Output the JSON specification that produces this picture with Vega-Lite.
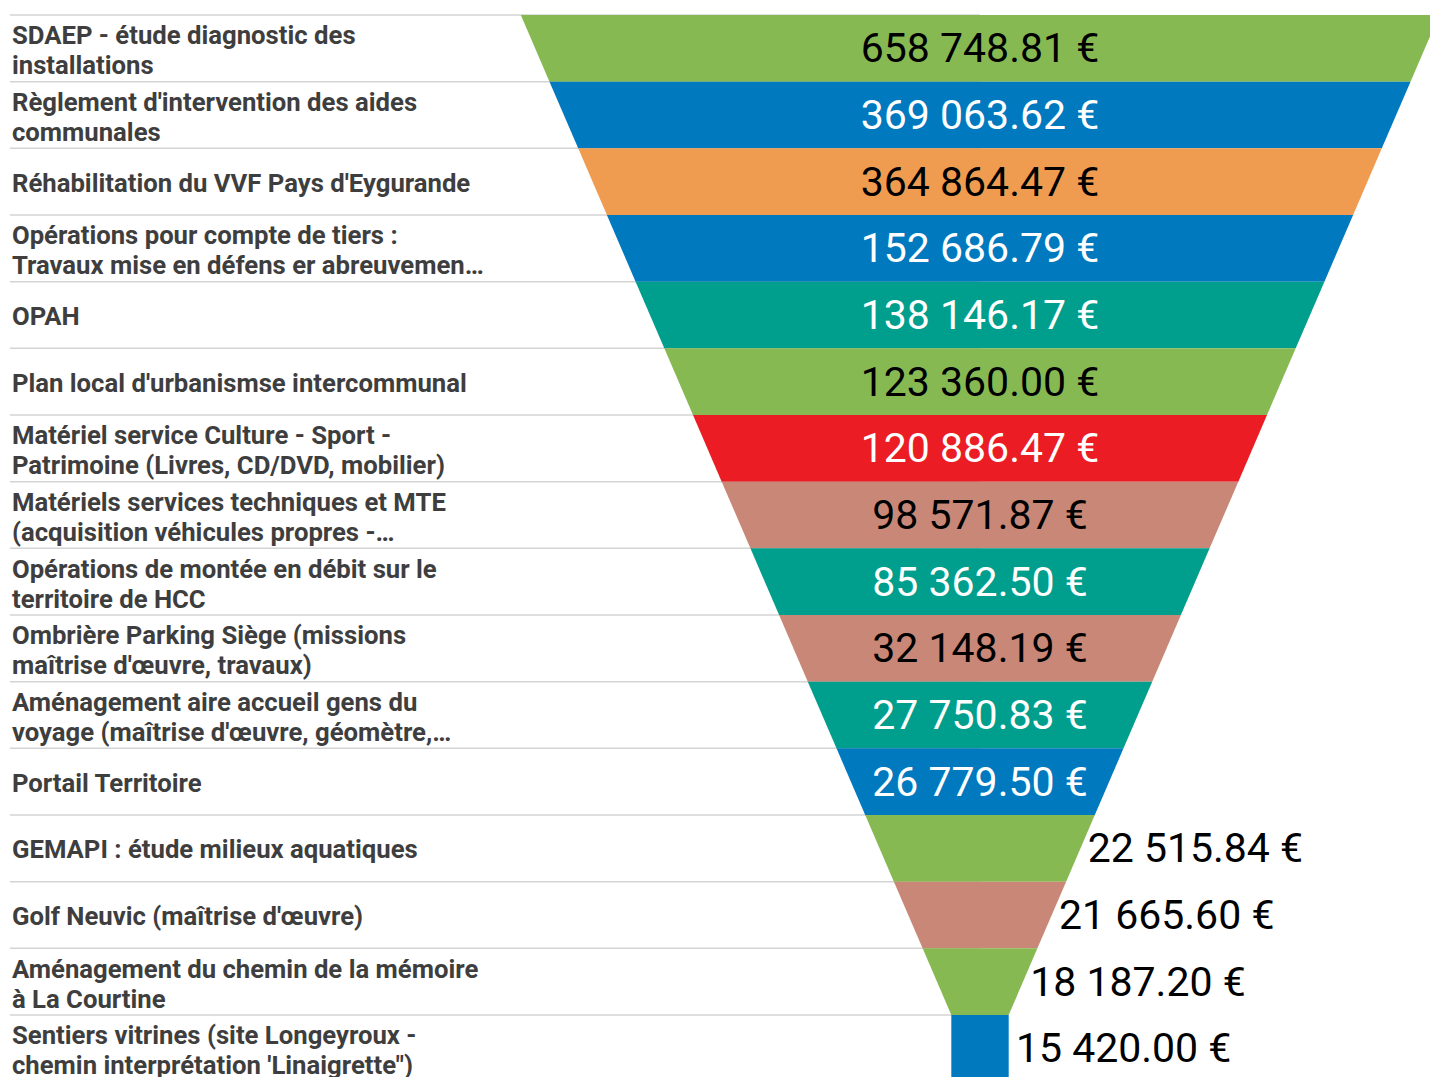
{
  "$schema": "https://vega.github.io/schema/vega-lite/v6.json",
  "width": 1430,
  "height": 1077,
  "autosize": {"type": "none"},
  "padding": 0,
  "background": "white",
  "config": {
    "view": {"stroke": null},
    "locale": {"number": {"decimal": ".", "thousands": " ", "grouping": [3], "currency": ["", " €"]}}
  },
  "data": {
    "values": [
      {"projet": "SDAEP - étude diagnostic des\ninstallations", "montant": 658748.81, "groupe": "G1"},
      {"projet": "Règlement d'intervention des aides\ncommunales", "montant": 369063.62, "groupe": "G2"},
      {"projet": "Réhabilitation du VVF Pays d'Eygurande", "montant": 364864.47, "groupe": "G3"},
      {"projet": "Opérations pour compte de tiers :\nTravaux mise en défens er abreuvemen…", "montant": 152686.79, "groupe": "G2"},
      {"projet": "OPAH", "montant": 138146.17, "groupe": "G4"},
      {"projet": "Plan local d'urbanismse intercommunal", "montant": 123360.00, "groupe": "G1"},
      {"projet": "Matériel service Culture - Sport -\nPatrimoine (Livres, CD/DVD, mobilier)", "montant": 120886.47, "groupe": "G5"},
      {"projet": "Matériels services techniques et MTE\n(acquisition véhicules propres -…", "montant": 98571.87, "groupe": "G6"},
      {"projet": "Opérations de montée en débit sur le\nterritoire de HCC", "montant": 85362.50, "groupe": "G4"},
      {"projet": "Ombrière Parking Siège (missions\nmaîtrise d'œuvre, travaux)", "montant": 32148.19, "groupe": "G6"},
      {"projet": "Aménagement aire accueil gens du\nvoyage (maîtrise d'œuvre, géomètre,…", "montant": 27750.83, "groupe": "G4"},
      {"projet": "Portail Territoire", "montant": 26779.50, "groupe": "G2"},
      {"projet": "GEMAPI : étude milieux aquatiques", "montant": 22515.84, "groupe": "G1"},
      {"projet": "Golf Neuvic (maîtrise d'œuvre)", "montant": 21665.60, "groupe": "G6"},
      {"projet": "Aménagement du chemin de la mémoire\nà La Courtine", "montant": 18187.20, "groupe": "G1"},
      {"projet": "Sentiers vitrines (site Longeyroux -\nchemin interprétation 'Linaigrette\")", "montant": 15420.00, "groupe": "G2"}
    ]
  },
  "transform": [
    {"window": [{"op": "row_number", "as": "i"}], "sort": [{"field": "montant", "order": "descending"}]},
    {"calculate": "datum.i - 1", "as": "t0"},
    {"calculate": "datum.i - 0.5", "as": "ymid"},
    {"calculate": "17 - datum.i", "as": "h0"},
    {"calculate": "max(16 - datum.i, 1)", "as": "h1"},
    {"calculate": "(datum.h0 + datum.h1) / 2 + 0.25", "as": "xlab"}
  ],
  "layer": [
    {
      "mark": {"type": "rule", "color": "#d4d4d4", "strokeWidth": 1.5},
      "encoding": {
        "x": {"datum": -33.8, "type": "quantitative", "scale": {"domain": [-34.146, 15.679], "nice": false, "zero": false}, "axis": null},
        "x2": {"datum": 0},
        "y": {"field": "t0", "type": "quantitative", "scale": {"domain": [-0.225, 15.93], "nice": false, "zero": false, "reverse": true}, "axis": null}
      }
    },
    {
      "transform": [
        {"fold": ["h0", "h1"], "as": ["bord", "h"]},
        {"calculate": "datum.bord == 'h0' ? datum.t0 : datum.i", "as": "yb"},
        {"calculate": "-datum.h", "as": "nh"}
      ],
      "mark": {"type": "area", "orient": "horizontal", "clip": true},
      "encoding": {
        "y": {"field": "yb", "type": "quantitative", "scale": {"domain": [-0.225, 15.93], "nice": false, "zero": false, "reverse": true}, "axis": null},
        "x": {"field": "nh", "type": "quantitative", "scale": {"domain": [-34.146, 15.679], "nice": false, "zero": false}, "axis": null},
        "x2": {"field": "h"},
        "detail": {"field": "i", "type": "nominal"},
        "color": {
          "field": "groupe", "type": "nominal", "legend": null,
          "scale": {"domain": ["G1", "G2", "G3", "G4", "G5", "G6"], "range": ["#87b953", "#0079bf", "#f09c50", "#009e8c", "#ec1c24", "#c98877"]}
        }
      }
    },
    {
      "transform": [{"filter": "indexof(datum.projet, '\\n') < 0"}],
      "mark": {"type": "text", "align": "left", "baseline": "middle", "dy": 2, "font": "Roboto", "fontSize": 25.7, "fontWeight": "bold", "color": "#3e3e3e"},
      "encoding": {
        "x": {"datum": -33.73, "type": "quantitative", "scale": {"domain": [-34.146, 15.679], "nice": false, "zero": false}, "axis": null},
        "y": {"field": "ymid", "type": "quantitative", "scale": {"domain": [-0.225, 15.93], "nice": false, "zero": false, "reverse": true}, "axis": null},
        "text": {"field": "projet"}
      }
    },
    {
      "transform": [{"filter": "indexof(datum.projet, '\\n') >= 0"}],
      "mark": {"type": "text", "align": "left", "baseline": "middle", "dy": -12, "font": "Roboto", "fontSize": 25.7, "fontWeight": "bold", "lineBreak": "\n", "lineHeight": 30, "color": "#3e3e3e"},
      "encoding": {
        "x": {"datum": -33.73, "type": "quantitative", "scale": {"domain": [-34.146, 15.679], "nice": false, "zero": false}, "axis": null},
        "y": {"field": "ymid", "type": "quantitative", "scale": {"domain": [-0.225, 15.93], "nice": false, "zero": false, "reverse": true}, "axis": null},
        "text": {"field": "projet"}
      }
    },
    {
      "transform": [{"filter": "datum.i <= 12"}],
      "mark": {"type": "text", "align": "center", "baseline": "middle", "dy": 2, "font": "Roboto", "fontSize": 41},
      "encoding": {
        "x": {"datum": 0, "type": "quantitative", "scale": {"domain": [-34.146, 15.679], "nice": false, "zero": false}, "axis": null},
        "y": {"field": "ymid", "type": "quantitative", "scale": {"domain": [-0.225, 15.93], "nice": false, "zero": false, "reverse": true}, "axis": null},
        "text": {"field": "montant", "type": "quantitative", "format": "$,.2f"},
        "color": {"condition": {"test": "indexof(['G2','G4','G5'], datum.groupe) >= 0", "value": "#ffffff"}, "value": "#000000"}
      }
    },
    {
      "transform": [{"filter": "datum.i > 12"}],
      "mark": {"type": "text", "align": "left", "baseline": "middle", "dy": 2, "font": "Roboto", "fontSize": 41, "color": "#000000"},
      "encoding": {
        "x": {"field": "xlab", "type": "quantitative", "scale": {"domain": [-34.146, 15.679], "nice": false, "zero": false}, "axis": null},
        "y": {"field": "ymid", "type": "quantitative", "scale": {"domain": [-0.225, 15.93], "nice": false, "zero": false, "reverse": true}, "axis": null},
        "text": {"field": "montant", "type": "quantitative", "format": "$,.2f"}
      }
    }
  ]
}
